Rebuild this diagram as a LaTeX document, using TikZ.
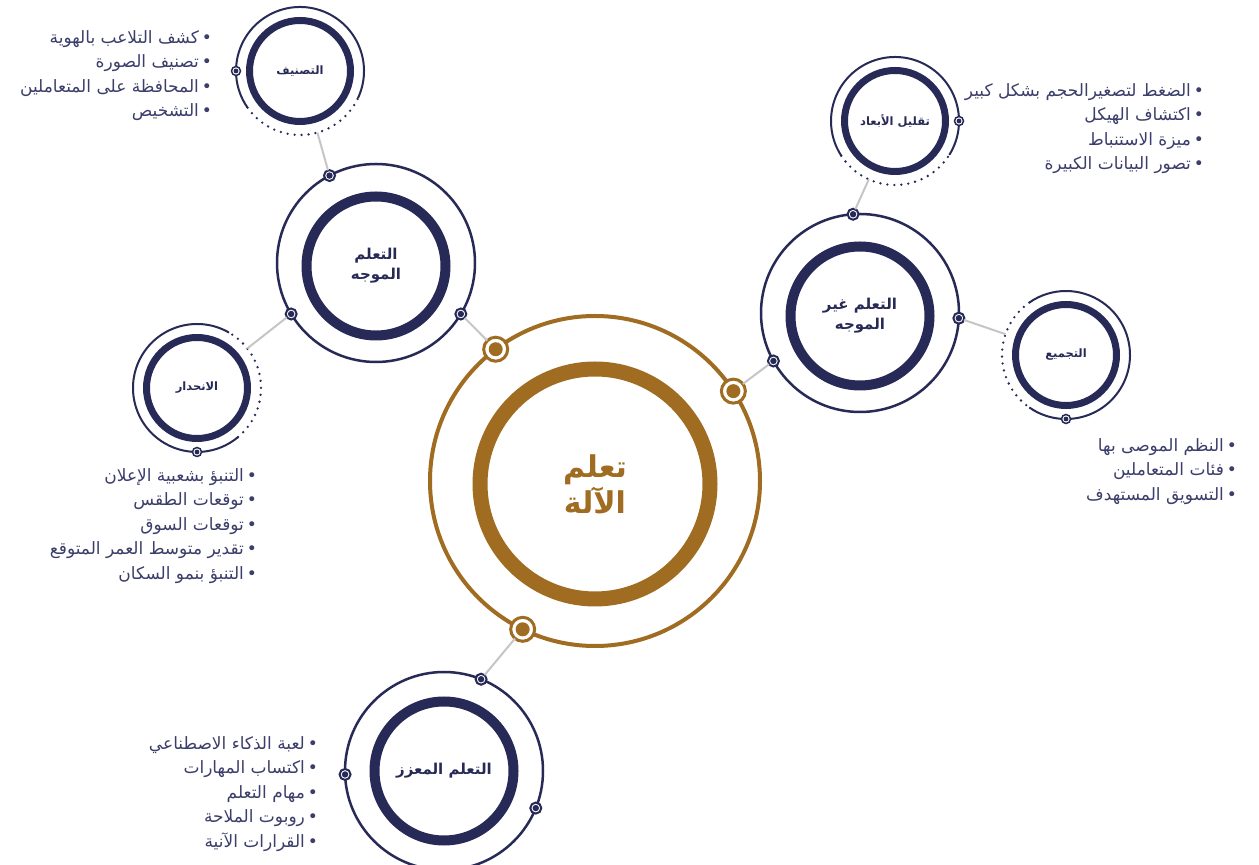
\documentclass[tikz,border=0pt]{standalone}
\usepackage{fontspec}
\usepackage{xcolor}
\newfontfamily\arabicfont[Script=Arabic]{DejaVu Sans}
\TeXXeTstate=1
\definecolor{navy}{HTML}{272A57}
\definecolor{gold}{HTML}{9F6C22}
\definecolor{linkgray}{HTML}{C6C6C6}
\definecolor{itemtext}{HTML}{3B3E6A}

\begin{document}
\begin{tikzpicture}[x=1pt,y=1pt,
hubring/.style={circle,draw=gold,line width=4,minimum size=330,inner sep=0,outer sep=0},
hubcore/.style={circle,draw=gold,line width=15,minimum size=230,inner sep=0,outer sep=0,text=gold,align=center,font=\arabicfont\bfseries\fontsize{30}{36}\selectfont},
bigring/.style={circle,draw=navy,line width=2.5,minimum size=198,inner sep=0,outer sep=0},
bigcore/.style={circle,draw=navy,line width=10,minimum size=139,inner sep=0,outer sep=0,text=navy,align=center,font=\arabicfont\bfseries\fontsize{15}{20}\selectfont},
smallring/.style={circle,minimum size=128,inner sep=0,outer sep=0},
smallcore/.style={circle,draw=navy,line width=7,minimum size=101,inner sep=0,outer sep=0,text=navy,font=\arabicfont\bfseries\fontsize{11.5}{13}\selectfont},
arcline/.style={navy,line width=2},
arcdots/.style={navy,line width=2.6,line cap=round,dash pattern=on 0pt off 7pt},
goldport/.style={circle,draw=gold,fill=white,line width=3,minimum size=24,inner sep=0,outer sep=0,path picture={\fill[gold] (path picture bounding box.center) circle (7pt);}},
port/.style={circle,draw=navy,fill=white,line width=2,minimum size=11,inner sep=0,outer sep=0,path picture={\fill[navy] (path picture bounding box.center) circle (3.2pt);}},
tinyport/.style={circle,draw=navy,fill=white,line width=1.5,minimum size=9,inner sep=0,outer sep=0,path picture={\fill[navy] (path picture bounding box.center) circle (2.4pt);}},
link/.style={linkgray,line width=2},
items/.style={anchor=north east,inner sep=0,align=right,text=itemtext,font=\arabicfont\fontsize{17}{24.5}\selectfont}]
\useasboundingbox (0,0) rectangle (1259,865);
\fill[white] (0,0) rectangle (1259,865);
\node[hubring] (ml) at (595,384) {};
\node[hubcore] (mlc) at (595,381) {\beginR تعلم\endR\\\beginR الآلة\endR};
\node[bigring] (sup) at (376,602) {};
\node[bigcore] (supc) at (376,599) {\beginR التعلم\endR\\\beginR الموجه\endR};
\node[bigring] (uns) at (860,552) {};
\node[bigcore] (unsc) at (860,549) {\beginR التعلم غير\endR\\\beginR الموجه\endR};
\node[bigring] (rl) at (444,94) {};
\node[bigcore] (rlc) at (444,94) {\beginR التعلم المعزز\endR};
\node[smallring] (cls) at (300,794) {};
\node[smallcore] (clsc) at (300,794) {\beginR التصنيف\endR};
\draw[arcline] (cls.335) arc[start angle=-25,end angle=215,radius=64];
\draw[arcdots] (cls.215) arc[start angle=215,end angle=335,radius=64];
\node[smallring] (dr) at (895,744) {};
\node[smallcore] (drc) at (895,744) {\beginR تقليل الأبعاد\endR};
\draw[arcline] (dr.328) arc[start angle=-32,end angle=213,radius=64];
\draw[arcdots] (dr.213) arc[start angle=213,end angle=328,radius=64];
\node[smallring] (reg) at (197,477) {};
\node[smallcore] (regc) at (197,477) {\beginR الانحدار\endR};
\draw[arcline] (reg.60) arc[start angle=60,end angle=310,radius=64];
\draw[arcdots] (reg.310) arc[start angle=310,end angle=420,radius=64];
\node[smallring] (clu) at (1066,510) {};
\node[smallcore] (cluc) at (1066,510) {\beginR التجميع\endR};
\draw[arcline] (clu.235) arc[start angle=235,end angle=485,radius=64];
\draw[arcdots] (clu.125) arc[start angle=125,end angle=235,radius=64];
\node[goldport] (g1) at (ml.127) {};
\node[goldport] (g2) at (ml.33) {};
\node[goldport] (g3) at (ml.244) {};
\node[port] (s1) at (sup.118) {};
\node[port] (s2) at (sup.211) {};
\node[port] (s3) at (sup.329) {};
\node[port] (u1) at (uns.94) {};
\node[port] (u2) at (uns.357) {};
\node[port] (u3) at (uns.209) {};
\node[port] (r1) at (rl.68) {};
\node[port] (r2) at (rl.182) {};
\node[port] (r3) at (rl.338) {};
\node[tinyport] (c1) at (cls.180) {};
\node[tinyport] (d1) at (dr.0) {};
\node[tinyport] (e1) at (reg.270) {};
\node[tinyport] (k1) at (clu.270) {};
\draw[link] (cls) -- (s1);
\draw[link] (s3) -- (g1);
\draw[link] (s2) -- (reg);
\draw[link] (dr) -- (u1);
\draw[link] (u2) -- (clu);
\draw[link] (u3) -- (g2);
\draw[link] (g3) -- (r1);
\node[items] (clsitems) at (212,835) {\beginR•\,كشف التلاعب بالهوية\endR\\\beginR•\,تصنيف الصورة\endR\\\beginR•\,المحافظة على المتعاملين\endR\\\beginR•\,التشخيص\endR};
\node[items] (dritems) at (1204,782) {\beginR•\,الضغط لتصغيرالحجم بشكل كبير\endR\\\beginR•\,اكتشاف الهيكل\endR\\\beginR•\,ميزة الاستنباط\endR\\\beginR•\,تصور البيانات الكبيرة\endR};
\node[items] (regitems) at (257,397) {\beginR•\,التنبؤ بشعبية الإعلان\endR\\\beginR•\,توقعات الطقس\endR\\\beginR•\,توقعات السوق\endR\\\beginR•\,تقدير متوسط العمر المتوقع\endR\\\beginR•\,التنبؤ بنمو السكان\endR};
\node[items] (cluitems) at (1237,427) {\beginR•\,النظم الموصى بها\endR\\\beginR•\,فئات المتعاملين\endR\\\beginR•\,التسويق المستهدف\endR};
\node[items] (rlitems) at (318,129) {\beginR•\,لعبة الذكاء الاصطناعي\endR\\\beginR•\,اكتساب المهارات\endR\\\beginR•\,مهام التعلم\endR\\\beginR•\,روبوت الملاحة\endR\\\beginR•\,القرارات الآنية\endR};
\end{tikzpicture}
\end{document}
